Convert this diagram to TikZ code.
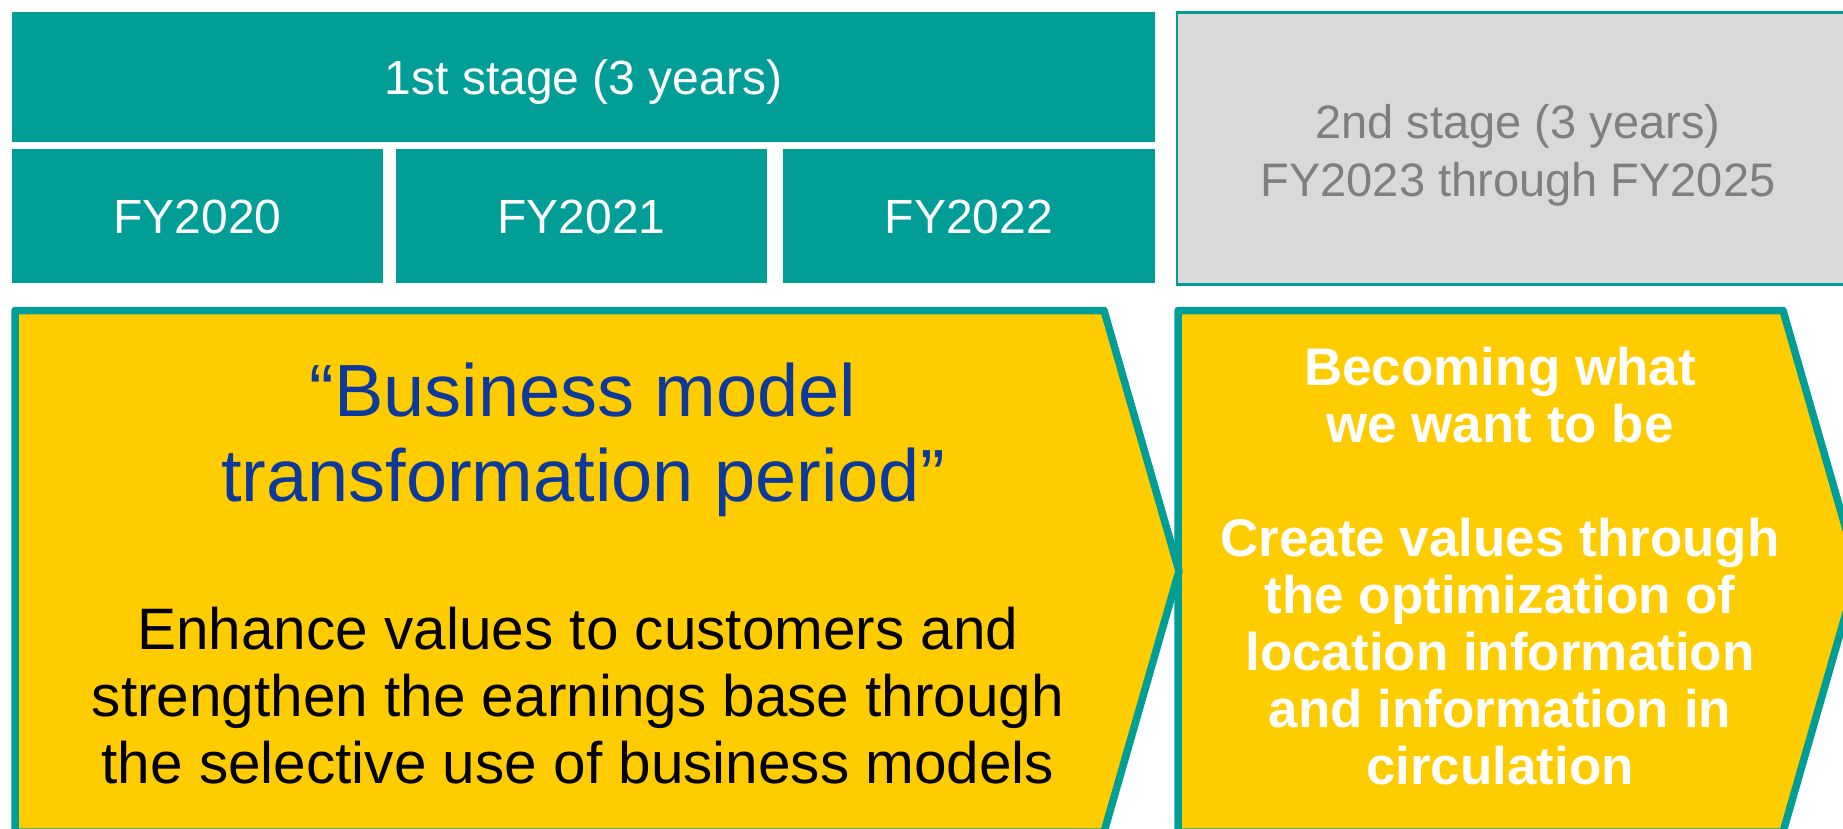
\documentclass[tikz,border=0pt]{standalone}
\usepackage{fontspec}
\setmainfont{Liberation Sans}
\definecolor{brandteal}{HTML}{009E96}
\definecolor{brandyellow}{HTML}{FFCC00}
\definecolor{stagegray}{HTML}{D9D9D9}
\definecolor{stagetext}{HTML}{7F7F7F}
\definecolor{titleblue}{HTML}{0D3A9A}

\begin{document}
\begin{tikzpicture}[x=1pt, y=-1pt,
  yearbox/.style={fill=brandteal, draw=none, inner sep=0pt, text=white,
    font=\fontsize{48}{55}\selectfont, text height=34.4pt, text depth=0pt},
  laterbox/.style={fill=stagegray, draw=brandteal, line width=2.5pt, inner sep=0pt},
  laterlabel/.style={text=stagetext, align=center, inner sep=0pt,
    font=\fontsize{47}{58}\selectfont},
  chevron/.style={fill=brandyellow, draw=brandteal, line width=7.5pt, line join=round},
  periodtitle/.style={text=titleblue, align=center, inner sep=0pt,
    font=\fontsize{74}{85}\selectfont},
  periodbody/.style={text=black, align=center, inner sep=0pt,
    font=\fontsize{58.5}{67}\selectfont},
  visionbody/.style={text=white, align=center, inner sep=0pt,
    font=\bfseries\fontsize{53}{57}\selectfont}
]
\useasboundingbox (0,0) rectangle (1843,829);
\clip (0,0) rectangle (1843,829);

% first stage header and its three fiscal years
\node[yearbox, minimum width=1143pt, minimum height=130pt] (stage1) at (583.5,77) {1st stage (3 years)};
\node[yearbox, minimum width=371pt, minimum height=134pt] (fy2020) at (197.5,216) {FY2020};
\node[yearbox, minimum width=371pt, minimum height=134pt] (fy2021) at (581.5,216) {FY2021};
\node[yearbox, minimum width=372pt, minimum height=134pt] (fy2022) at (969,216) {FY2022};

% second stage header
\node[laterbox, minimum width=683pt, minimum height=272pt] (stage2) at (1518.5,148.5) {};
\node[laterlabel] (stage2text) at (1518,155) {2nd stage (3 years)\\FY2023 through FY2025};

% second stage arrow
\path[chevron] (1178,310.5) -- (1783,310.5) -- (1858,571) -- (1783,832) -- (1178,832) -- cycle;
% first stage arrow
\path[chevron] (15,310.5) -- (1104,310.5) -- (1179,571) -- (1104,832) -- (15,832) -- cycle;

\node[periodtitle] (title1) at (583,440) {“Business model\\transformation period”};
\node[periodbody] (body1) at (578,696) {Enhance values to customers and\\strengthen the earnings base through\\the selective use of business models};
\node[visionbody] (body2) at (1500,566) {Becoming what\\we want to be\\[57pt]Create values through\\the optimization of\\location information\\and information in\\circulation};
\end{tikzpicture}
\end{document}
